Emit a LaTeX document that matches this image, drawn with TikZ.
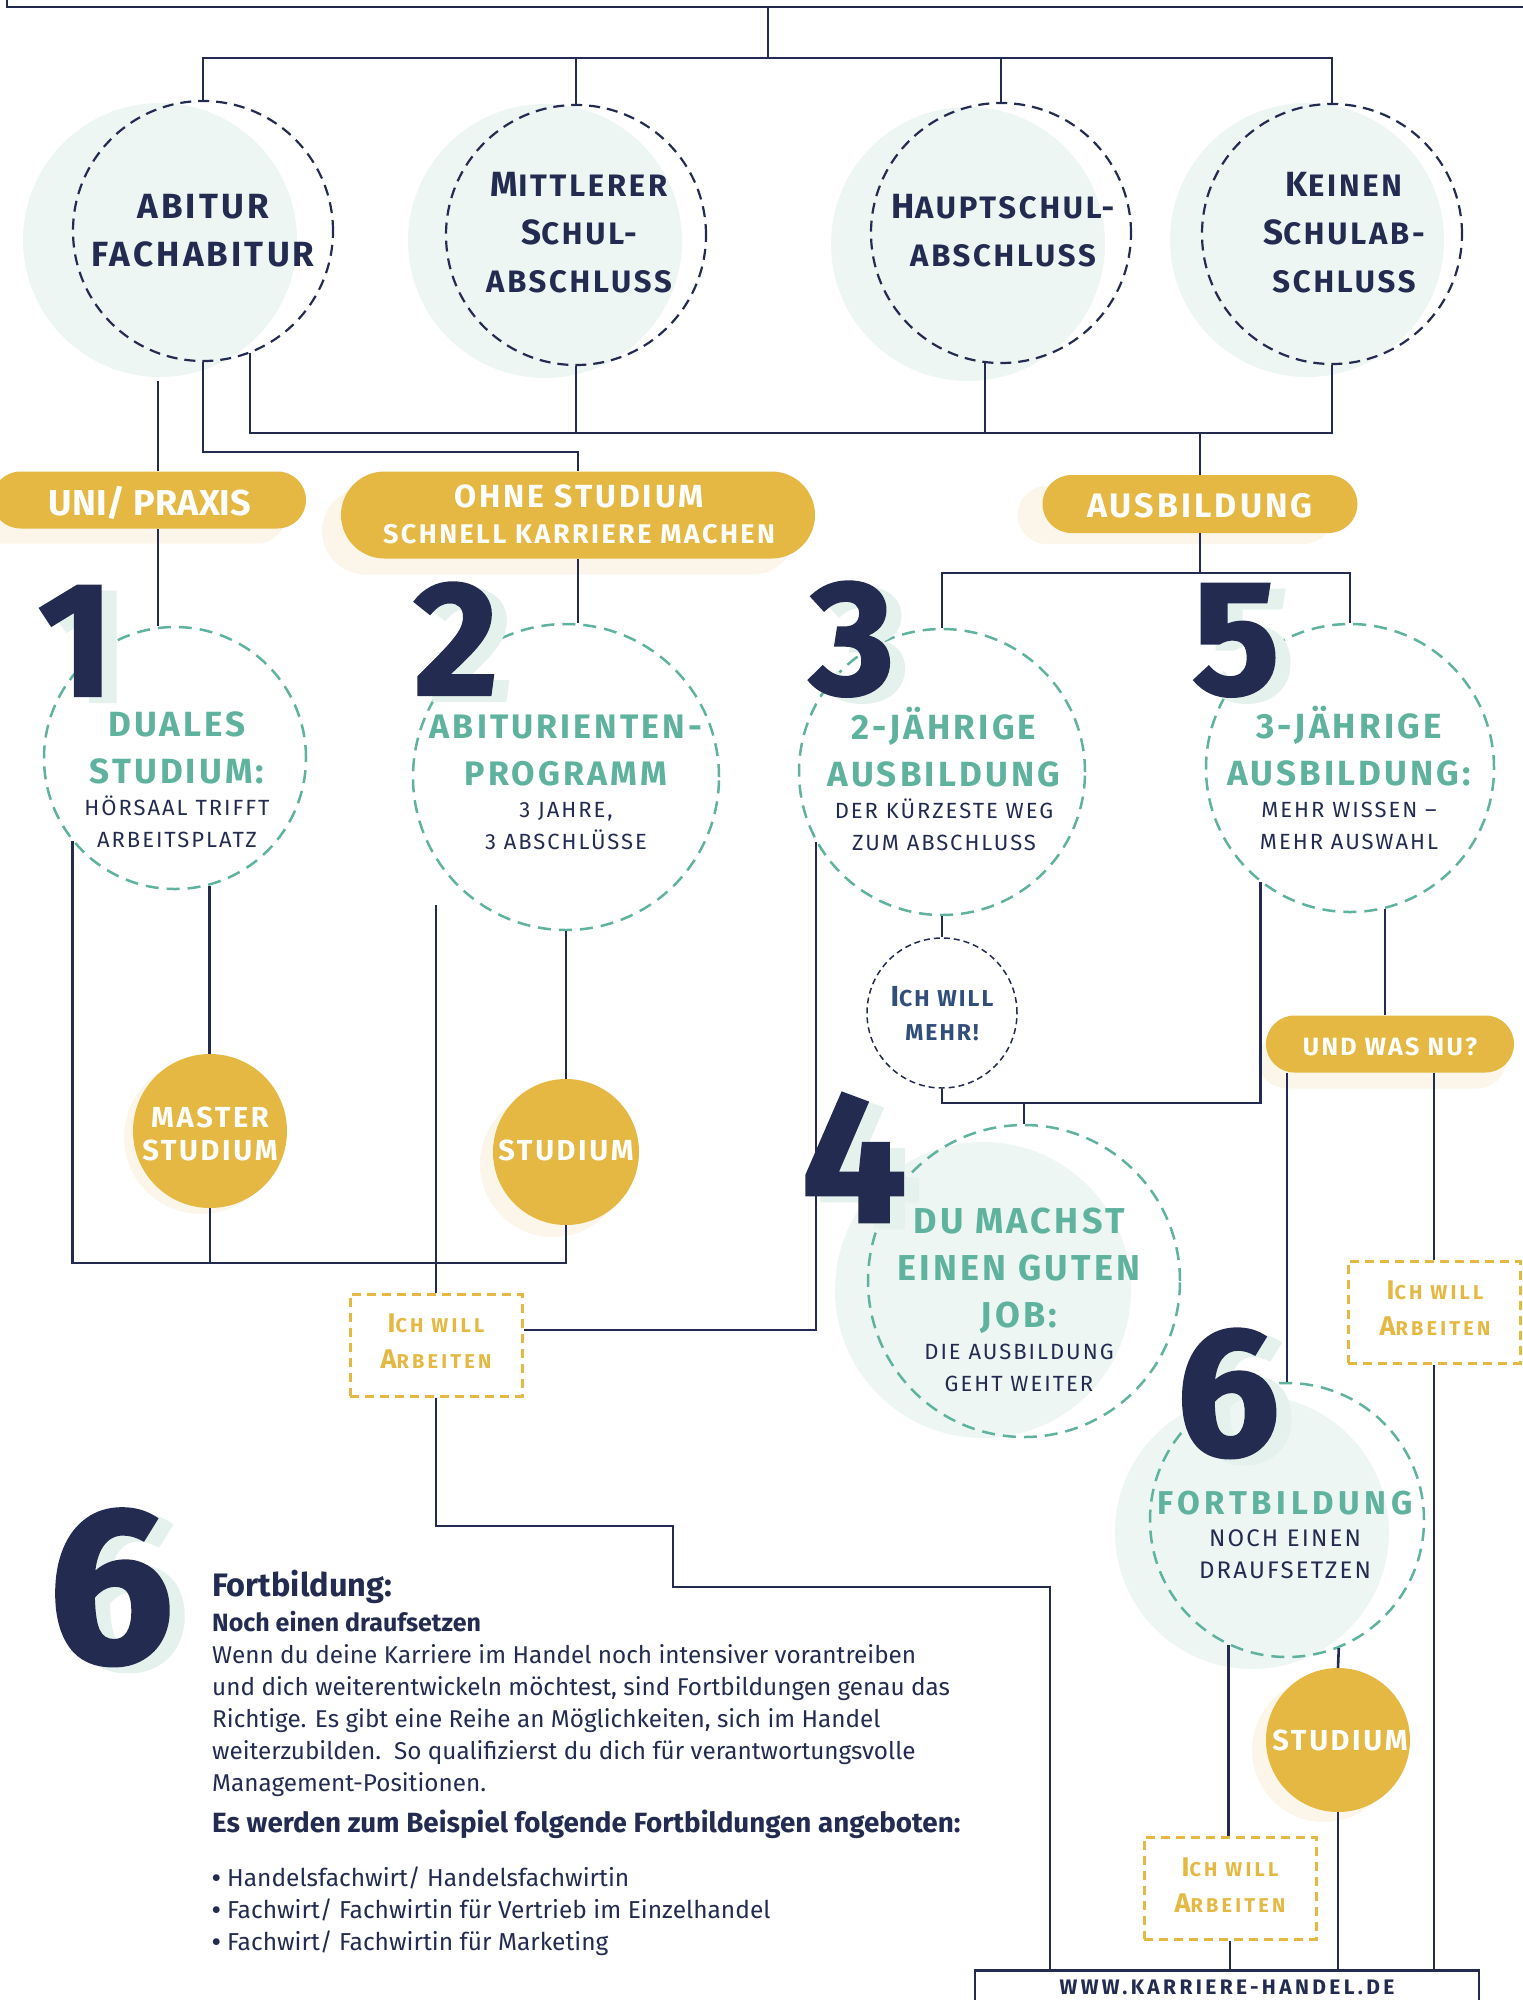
\documentclass[tikz,border=0pt]{standalone}
\usepackage{fontspec}
\setmainfont{Fira Sans}
\newfontfamily\weit[LetterSpace=9]{Fira Sans}
\newfontfamily\weiter[LetterSpace=14]{Fira Sans}
\newfontfamily\sehrweit[LetterSpace=16]{Fira Sans}
\newfontfamily\ziffern[BoldFeatures={FakeBold=1.5}]{Fira Sans}
\usetikzlibrary{shadows}

\definecolor{nacht}{RGB}{35,44,80}
\definecolor{minze}{RGB}{94,178,158}
\definecolor{hauch}{RGB}{237,246,242}
\definecolor{gold}{RGB}{228,184,66}
\definecolor{blass}{RGB}{251,246,233}
\definecolor{tinte}{RGB}{50,78,122}
\definecolor{zartminze}{RGB}{228,241,236}

\newcommand{\zeilen}[1]{\parbox[t]{420pt}{\centering #1}}
\newcommand{\kap}[2]{{\fontsize{#1}{#1}\selectfont #2}}
\newcommand{\titel}[2][35]{{\leavevmode\color{minze}\weit\bfseries\fontsize{#1}{47}\selectfont #2\par}}
\newcommand{\unter}[1]{{\leavevmode\color{nacht}\weit\mdseries\fontsize{22}{32}\selectfont #1\par}}

\tikzset{
  linie/.style={draw=nacht, line width=2.6pt},
  txt/.style={anchor=base, inner sep=0pt},
  schule/.style={circle, draw=nacht, line width=2.2pt, dash pattern=on 11pt off 7pt, minimum size=260pt, inner sep=0pt},
  weg/.style={circle, draw=minze, line width=2.5pt, dash pattern=on 13pt off 8pt, minimum size=#1, inner sep=0pt},
  pille/.style={rectangle, fill=gold, inner sep=0pt},
  kreis/.style={circle, fill=gold, minimum size=#1, inner sep=0pt},
  schattig/.style 2 args={drop shadow={shadow xshift=#1pt, shadow yshift=#2pt, fill=blass, opacity=1}},
  kasten/.style={rectangle, draw=gold, line width=3pt, dash pattern=on 9pt off 6pt, minimum width=172pt, minimum height=102pt, inner sep=0pt},
  oben/.style={txt, text=nacht, font={\weit\fontsize{35}{48}\selectfont\bfseries}},
  weiss/.style={txt, text=white, font={\weit\bfseries}},
  wunsch/.style={txt, text=gold, font={\sehrweit\fontsize{20}{36}\selectfont\bfseries}},
  ziffer/.style={anchor=base, inner sep=0pt, text=nacht, font={\ziffern\fontsize{#1}{#1}\selectfont\bfseries}},
  zschatten/.style={ziffer=#1, text=zartminze},
  fliess/.style={txt, anchor=base west, text=nacht}
}

\begin{document}
\begin{tikzpicture}[x=1pt,y=-1pt]
  \useasboundingbox (0,0) rectangle (1523,2000);

  % helle Kreise hinter den Stationen
  \fill[hauch] (160,240) circle[radius=137pt];
  \fill[hauch] (545,241) circle[radius=137pt];
  \fill[hauch] (968,244) circle[radius=137pt];
  \fill[hauch] (1307,240) circle[radius=137pt];
  \fill[hauch] (983,1290) circle[radius=148pt];
  \fill[hauch] (1252,1532) circle[radius=137pt];

  % Schulabschluesse
  \node[schule] (abi) at (203,231) {};
  \node[schule] (mitt) at (576,235) {};
  \node[schule] (haupt) at (1001,233) {};
  \node[schule] (kein) at (1332,234) {};
  \node[oben] (abi-t) at (203,218) {\zeilen{ABITUR\\FACHABITUR}};
  \node[oben] (mitt-t) at (579,196) {\zeilen{M\kap{31}{ITTLERER}\\S\kap{31}{CHUL-}\\\kap{31}{ABSCHLUSS}}};
  \node[oben] (haupt-t) at (1003,218) {\zeilen{H\kap{31}{AUPTSCHUL-}\\\kap{31}{ABSCHLUSS}}};
  \node[oben] (kein-t) at (1344,196) {\zeilen{K\kap{31}{EINEN}\\S\kap{31}{CHULAB-}\\\kap{31}{SCHLUSS}}};

  % Wege
  \node[pille, minimum width=314pt, minimum height=57pt, rounded corners=28.5pt, schattig={-20}{-15}] (uni) at (149,500) {};
  \node[pille, minimum width=474pt, minimum height=87pt, rounded corners=43.5pt, schattig={-19}{-16}] (ohne) at (578,515) {};
  \node[pille, minimum width=315pt, minimum height=58pt, rounded corners=29pt, schattig={-25}{-11}] (ausb) at (1200,504) {};
  \node[pille, minimum width=248pt, minimum height=57pt, rounded corners=28.5pt, schattig={-8}{-16}] (undwas) at (1390,1044) {};
  \node[weiss, font=\bfseries] (uni-t) at (150,515) {\fontsize{36}{40}\selectfont UNI/ PRAXIS};
  \node[weiss] (ohne-t) at (579,507) {\zeilen{{\fontsize{32}{36}\selectfont OHNE STUDIUM\par}{\fontsize{27}{36}\selectfont SCHNELL KARRIERE MACHEN\par}}};
  \node[weiss] (ausb-t) at (1200,517) {\fontsize{34}{40}\selectfont AUSBILDUNG};
  \node[weiss] (undwas-t) at (1390,1055) {\fontsize{25}{30}\selectfont UND WAS NU?};

  % Stationen
  \node[weg=262pt] (duales) at (175,758) {};
  \node[weg=306pt] (abiprog) at (566,777) {};
  \node[weg=286pt] (zwei) at (942,772) {};
  \node[weg=288pt] (drei) at (1350,768) {};
  \node[weg=312pt] (job) at (1024,1281) {};
  \node[weg=274pt] (fortb) at (1287,1520) {};
  \node[txt] (duales-t) at (177,736) {\zeilen{\titel{DUALES\\STUDIUM:}\unter{HÖRSAAL TRIFFT\\ARBEITSPLATZ}}};
  \node[txt] (abiprog-t) at (566,738) {\zeilen{\titel[34]{ABITURIENTEN-\\PROGRAMM}\unter{3 JAHRE,\\3 ABSCHLÜSSE}}};
  \node[txt] (zwei-t) at (944,739) {\zeilen{\titel{2-JÄHRIGE\\AUSBILDUNG}\unter{DER KÜRZESTE WEG\\ZUM ABSCHLUSS}}};
  \node[txt] (drei-t) at (1349,738) {\zeilen{\titel{3-JÄHRIGE\\AUSBILDUNG:}\unter{MEHR WISSEN –\\MEHR AUSWAHL}}};
  \node[txt] (job-t) at (1019,1233) {\zeilen{\titel[36]{DU MACHST\\EINEN GUTEN\\JOB:}\unter{DIE AUSBILDUNG\\GEHT WEITER}}};
  \node[txt] (fortb-t) at (1285,1514) {\zeilen{{\leavevmode\color{minze}\weiter\bfseries\fontsize{33}{33}\selectfont FORTBILDUNG\par}{\leavevmode\color{nacht}\weit\fontsize{24}{32}\selectfont NOCH EINEN\\DRAUFSETZEN\par}}};

  % Studium
  \node[kreis=154pt, schattig={-9}{-6}] (master) at (210,1131) {};
  \node[kreis=146pt, schattig={-13}{-12}] (stud1) at (566,1152) {};
  \node[kreis=144pt, schattig={-14}{-10}] (stud2) at (1338,1740) {};
  \node[weiss] (master-t) at (210,1127) {\zeilen{\fontsize{29}{33}\selectfont MASTER\\STUDIUM}};
  \node[weiss] (stud1-t) at (566,1160) {\fontsize{29}{33}\selectfont STUDIUM};
  \node[weiss] (stud2-t) at (1340,1750) {\fontsize{29}{33}\selectfont STUDIUM};

  % ich will ...
  \node[circle, draw=nacht, line width=1.5pt, dash pattern=on 6pt off 4pt, minimum size=150pt, inner sep=0pt] (mehr) at (942,1013) {};
  \node[txt, text=tinte, font={\weit\fontsize{23}{34}\selectfont\bfseries}] (mehr-t) at (942,1006) {\zeilen{\kap{29}{I}CH WILL\\MEHR!}};
  \node[kasten] (box1) at (436,1345) {};
  \node[kasten] (box2) at (1434,1312) {};
  \node[kasten] (box3) at (1230,1888) {};
  \node[wunsch] (box1-t) at (436,1332) {\zeilen{\kap{27}{I}CH WILL\\\kap{27}{A}RBEITEN}};
  \node[wunsch] (box2-t) at (1435,1299) {\zeilen{\kap{27}{I}CH WILL\\\kap{27}{A}RBEITEN}};
  \node[wunsch] (box3-t) at (1230,1876) {\zeilen{\kap{27}{I}CH WILL\\\kap{27}{A}RBEITEN}};

  % Webadresse
  \node[draw=nacht, line width=2.6pt, minimum width=504pt, minimum height=60pt, anchor=north, inner sep=0pt] (url) at (1227,1969) {};
  \node[txt, text=nacht, font={\sehrweit\fontsize{21}{24}\selectfont\bfseries}] (url-t) at (1227,1994) {WWW.KARRIERE-HANDEL.DE};

  % Verbindungen
  \coordinate (rahmenL) at (7,-10);
  \coordinate (rahmenR) at (1535,7);
  \coordinate (rahmen) at (768,7);
  \coordinate (bus1) at (768,58);
  \coordinate (a1) at (158,381);
  \coordinate (k2) at (578,452);
  \coordinate (bus2) at (1200,433);
  \coordinate (bus3) at (1200,573);
  \coordinate (a3) at (436,905);
  \coordinate (bus4) at (566,1263);
  \coordinate (bus5) at (1024,1103);
  \coordinate (knick1) at (673,1526);
  \coordinate (knick2) at (1050,1587);

  \draw[linie] (rahmenL) |- (rahmenR);
  \draw[linie] (rahmen) -- (bus1);
  \draw[linie] (abi.north) |- (bus1) -| (kein.north);
  \draw[linie] (mitt.north) -- (mitt.north |- bus1);
  \draw[linie] (haupt.north) -- (haupt.north |- bus1);
  \draw[linie] (a1) -- (a1 |- uni.north);
  \draw[linie] (a1 |- uni.south) -- (a1 |- duales.north);
  \draw[linie] (abi.south) |- (k2) -- (ohne.north);
  \draw[linie] (abi.291) |- (bus2) -| (kein.south);
  \draw[linie] (mitt.south) -- (mitt.south |- bus2);
  \draw[linie] (haupt.263) -- (haupt.263 |- bus2);
  \draw[linie] (bus2) -- (ausb.north);
  \draw[linie] (ohne.south) -- (ohne.south |- abiprog.north);
  \draw[linie] (ausb.south) -- (bus3);
  \draw[linie] (zwei.north) |- (bus3) -| (drei.north);
  \draw[linie] (duales.219) |- (bus4) -- (stud1.south);
  \draw[linie] (duales.285) -- (duales.285 |- master.north);
  \draw[linie] (master.south) -- (master.south |- bus4);
  \draw[linie] (abiprog.south) -- (stud1.north);
  \draw[linie] (a3) -- (box1.north);
  \draw[linie] ([yshift=15pt]box1.east) -| (zwei.209);
  \draw[linie] (box1.south) |- (knick1) |- (knick2) -- (knick2 |- url.north);
  \draw[linie] (zwei.south) -- (mehr.north);
  \draw[linie] (mehr.south) |- (bus5) -- (job.north);
  \draw[linie] (bus5) -| (drei.232);
  \draw[linie] (drei.284) -- (drei.284 |- undwas.north);
  \draw[linie] (fortb.north |- undwas.south) -- (fortb.north);
  \draw[linie] (box2.north |- undwas.south) -- (box2.north);
  \draw[linie] (box2.south) -- (box2.south |- url.north);
  \draw[linie] (fortb.245) -- (fortb.245 |- box3.north);
  \draw[linie] (box3.south) -- (box3.south |- url.north);
  \draw[linie] (fortb.292) -- (stud2.north);
  \draw[linie] (stud2.south) -- (stud2.south |- url.north);

  % Ziffern
  \node[zschatten=163] (n1s) at (91,702) {1};
  \node[ziffer=163] (n1) at (76,696) {1};
  \node[zschatten=163] (n2s) at (471,701) {2};
  \node[ziffer=163] (n2) at (456,695) {2};
  \node[zschatten=163] (n3s) at (867,700) {3};
  \node[ziffer=163] (n3) at (852,694) {3};
  \node[zschatten=163] (n5s) at (1251,700) {5};
  \node[ziffer=163] (n5) at (1236,694) {5};
  \node[zschatten=186] (n4s) at (869,1228) {4};
  \node[ziffer=186] (n4) at (854,1222) {4};
  \node[zschatten=183] (n6rs) at (1243,1461) {6};
  \node[ziffer=183] (n6r) at (1228,1455) {6};
  \node[zschatten=222] (n6ls) at (126,1668) {6};
  \node[ziffer=222] (n6l) at (111,1662) {6};

  % Beschreibung Fortbildung
  \node[fliess, font={\fontsize{32.5}{34}\selectfont\bfseries}] (ftitel) at (212,1596) {Fortbildung:};
  \node[fliess, font={\fontsize{25}{32}\selectfont\bfseries}] (fsub) at (212,1631) {Noch einen draufsetzen};
  \node[fliess, font={\fontsize{24.3}{32}\selectfont}] (ftext) at (212,1663) {\parbox[t]{900pt}{\raggedright Wenn du deine Karriere im Handel noch intensiver vorantreiben\\und dich weiterentwickeln möchtest, sind Fortbildungen genau das\\Richtige. Es gibt eine Reihe an Möglichkeiten, sich im Handel\\weiterzubilden.\ \ So qualifizierst du dich für verantwortungsvolle\\Management-Positionen.}};
  \node[fliess, font={\fontsize{27.8}{32}\selectfont\bfseries}] (fbeisp) at (212,1832) {Es werden zum Beispiel folgende Fortbildungen angeboten:};
  \node[fliess, font={\fontsize{24.5}{32}\selectfont}] (fliste) at (212,1886) {\parbox[t]{900pt}{\raggedright {\bfseries•} Handelsfachwirt/ Handelsfachwirtin\\{\bfseries•} Fachwirt/ Fachwirtin für Vertrieb im Einzelhandel\\{\bfseries•} Fachwirt/ Fachwirtin für Marketing}};
\end{tikzpicture}
\end{document}
